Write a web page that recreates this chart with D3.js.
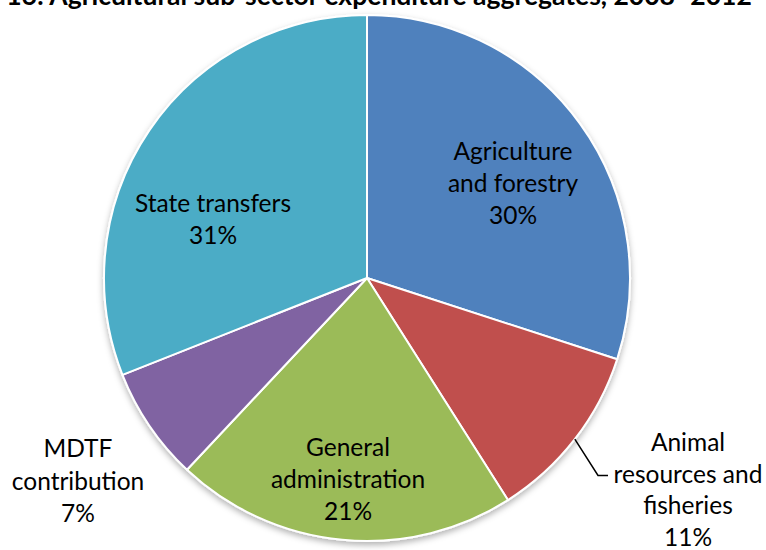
<!DOCTYPE html>
<html>
<head>
<meta charset="utf-8">
<script src="https://cdn.jsdelivr.net/npm/d3@7"></script>
<style>
  html, body { margin: 0; padding: 0; background: #fff; }
  svg { display: block; font-family: Lato, "Open Sans", sans-serif; }
</style>
</head>
<body>
<svg id="chart" width="766" height="550"></svg>
<script>
// Sub-sector shares of agricultural expenditure (percent)
const categories = ["Agriculture and forestry", "Animal resources and fisheries", "General administration", "MDTF contribution", "State transfers"];
const shares = [30, 11, 21, 7, 31];
const colors = ["#4F81BD", "#C0504D", "#9BBB59", "#8064A2", "#4BACC6"];
// Multi-line label text for each slice
const labelLines = [
  ["Agriculture", "and forestry", "30%"],
  ["Animal", "resources and", "fisheries", "11%"],
  ["General", "administration", "21%"],
  ["MDTF", "contribution", "7%"],
  ["State transfers", "31%"]
];
const titleText = "16: Agricultural sub-sector expenditure aggregates, 2008–2012";

const svg = d3.select("#chart");
const cx = 367, cy = 278, R = 263;

const defs = svg.append("defs");
const f = defs.append("filter").attr("id", "shadow").attr("x", "-10%").attr("y", "-10%").attr("width", "120%").attr("height", "125%");
f.append("feDropShadow").attr("dx", 0).attr("dy", 3).attr("stdDeviation", 3).attr("flood-color", "#000").attr("flood-opacity", 0.3);

const data = categories.map((c, i) => ({ name: c, value: shares[i], color: colors[i], lines: labelLines[i] }));
const pie = d3.pie().value(d => d.value).sort(null);
const arcs = pie(data);
const arc = d3.arc().innerRadius(0).outerRadius(R);

const g = svg.append("g").attr("transform", `translate(${cx},${cy})`);
g.append("g").attr("filter", "url(#shadow)")
  .selectAll("path").data(arcs).join("path")
  .attr("d", arc)
  .attr("fill", d => d.data.color)
  .attr("stroke", "#fff")
  .attr("stroke-width", 2)
  .attr("stroke-linejoin", "round");

// Label block placement relative to the pie centre: x of the centre line and y of the first baseline
const labelLayout = [
  { x: 146, y: -118, lineH: 32 },
  { x: 321, y: 173, lineH: 31.5 },
  { x: -19, y: 178, lineH: 32 },
  { x: -289, y: 179, lineH: 32.5 },
  { x: -154, y: -66, lineH: 32 }
];
const fontSize = 24.5;

arcs.forEach((a, i) => {
  const p = labelLayout[i];
  const t = g.append("text")
    .attr("text-anchor", "middle")
    .attr("font-size", fontSize)
    .attr("fill", "#000");
  a.data.lines.forEach((ln, k) => {
    t.append("tspan")
      .attr("x", p.x)
      .attr("y", p.y + k * p.lineH)
      .text(ln);
  });
});

// Leader line from the middle of the animal resources slice's rim to its label
{
  const a = arcs[1];
  const ang = (a.startAngle + a.endAngle) / 2;
  const rim = [Math.sin(ang) * R, -Math.cos(ang) * R];
  const p = labelLayout[1];
  const yLine = p.y + p.lineH - 7;
  g.append("path")
    .attr("d", d3.line()([rim, [231, yLine], [241, yLine]]))
    .attr("fill", "none")
    .attr("stroke", "#000")
    .attr("stroke-width", 1.5);
}

svg.append("text")
  .attr("x", 379).attr("y", 5)
  .attr("text-anchor", "middle")
  .attr("font-size", 26.5)
  .attr("font-weight", "bold")
  .attr("fill", "#000")
  .text(titleText);
</script>
</body>
</html>
